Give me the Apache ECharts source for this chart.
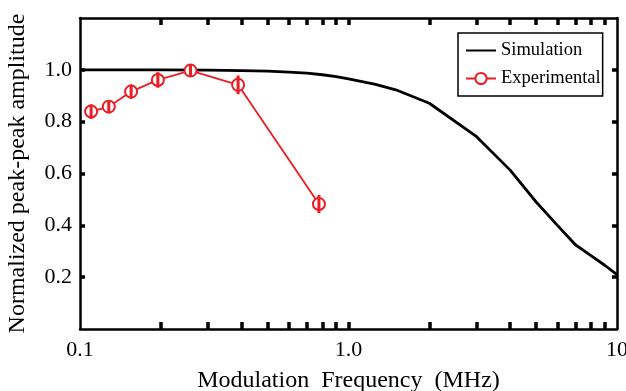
<!DOCTYPE html>
<html>
<head>
<meta charset="utf-8">
<script src="https://cdn.jsdelivr.net/npm/echarts@6/dist/echarts.min.js"></script>
<style>
  html, body { margin: 0; padding: 0; background: #fff; }
  #chart { width: 626px; height: 391px; }
</style>
</head>
<body>
<div id="chart"></div>
<script>
// simulation curve (MHz -> normalized amplitude)
var simFreq = [0.1, 0.2, 0.3, 0.4, 0.5, 0.6, 0.7, 0.8, 0.9, 1.0, 1.25, 1.5, 2, 3, 4, 5, 6, 7, 8, 9, 10];
var simAmp  = [1.0, 1.0, 0.999, 0.997, 0.995, 0.991, 0.987, 0.981, 0.974, 0.965, 0.945, 0.923, 0.871, 0.742, 0.613, 0.49, 0.40, 0.325, 0.283, 0.246, 0.21];

// measured points with error
var expFreq = [0.11, 0.128, 0.155, 0.195, 0.258, 0.388, 0.776];
var expAmp  = [0.839, 0.858, 0.916, 0.961, 0.997, 0.942, 0.482];
var expErr  = [0.028, 0.025, 0.028, 0.03, 0.022, 0.036, 0.035];

var xTickValues = [0.1, 1, 10];
var xTickLabels = ['0.1', '1.0', '10'];
var xMinorTicks = [0.2, 0.3, 0.4, 0.5, 0.6, 0.7, 0.8, 0.9, 1, 2, 3, 4, 5, 6, 7, 8, 9];
var yTickValues = [0.2, 0.4, 0.6, 0.8, 1.0];

var red = '#ec1c24';
var serif = '"Liberation Serif", "DejaVu Serif", serif';

var myChart = echarts.init(document.getElementById('chart'));

var simData = simFreq.map(function (f, i) { return [f, simAmp[i]]; });
var expData = expFreq.map(function (f, i) { return [f, expAmp[i]]; });
var errData = expFreq.map(function (f, i) { return [f, expAmp[i] - expErr[i], expAmp[i] + expErr[i]]; });

function xLabel(v) {
  var best = 0;
  for (var i = 1; i < xTickValues.length; i++) {
    if (Math.abs(Math.log(v / xTickValues[i])) < Math.abs(Math.log(v / xTickValues[best]))) best = i;
  }
  return xTickLabels[best];
}

function xAxisBase() {
  return {
    type: 'log',
    logBase: 10,
    min: 0.1,
    max: 10,
    axisLine: { show: true, onZero: false, lineStyle: { color: '#000', width: 2.5 } },
    axisTick: { show: true, inside: true, length: 7, lineStyle: { color: '#000', width: 3.5 }, customValues: xMinorTicks },
    splitLine: { show: false },
    minorTick: { show: false }
  };
}

function yAxisBase() {
  return {
    type: 'value',
    min: 0,
    max: 1.2,
    axisLine: { show: true, onZero: false, lineStyle: { color: '#000', width: 2.5 } },
    axisTick: { show: true, inside: true, length: 5, lineStyle: { color: '#000', width: 3.5 }, customValues: yTickValues },
    splitLine: { show: false }
  };
}

var option = {
  animation: false,
  backgroundColor: '#fff',
  grid: { left: 80, right: 9, top: 18, bottom: 62, outerBoundsMode: 'none', containLabel: false },
  legend: {
    data: [
      { name: 'Simulation', itemStyle: { opacity: 0 } },
      { name: 'Experimental' }
    ],
    orient: 'vertical',
    left: 458,
    top: 33,
    padding: [8, 2, 8, 7],
    itemGap: 9,
    itemWidth: 30,
    itemHeight: 14,
    backgroundColor: '#fff',
    borderColor: '#000',
    borderWidth: 1.5,
    borderRadius: 0,
    textStyle: { fontFamily: serif, fontSize: 18.5, color: '#000' }
  },
  xAxis: [
    Object.assign(xAxisBase(), {
      position: 'bottom',
      name: 'Modulation  Frequency  (MHz)',
      nameLocation: 'middle',
      nameGap: 40,
      nameTextStyle: { fontFamily: serif, fontSize: 24, color: '#000' },
      axisLabel: {
        customValues: xTickValues,
        formatter: xLabel,
        fontFamily: serif, fontSize: 22, color: '#000', margin: 10
      }
    }),
    Object.assign(xAxisBase(), {
      position: 'top',
      axisLabel: { show: false }
    })
  ],
  yAxis: [
    Object.assign(yAxisBase(), {
      position: 'left',
      name: 'Normalized peak-peak amplitude',
      nameLocation: 'middle',
      nameGap: 50,
      nameTextStyle: { fontFamily: serif, fontSize: 24, color: '#000' },
      axisLabel: {
        customValues: yTickValues,
        formatter: function (v) { return v.toFixed(1); },
        fontFamily: serif, fontSize: 22, color: '#000', margin: 8
      }
    }),
    Object.assign(yAxisBase(), {
      position: 'right',
      axisLabel: { show: false }
    })
  ],
  series: [
    {
      name: 'Simulation',
      type: 'line',
      data: simData,
      symbol: 'none',
      lineStyle: { color: '#000', width: 2.8 },
      itemStyle: { color: '#000' },
      z: 2
    },
    {
      name: 'Experimental',
      type: 'line',
      data: expData,
      symbol: 'emptyCircle',
      symbolSize: 12,
      lineStyle: { color: red, width: 1.8 },
      itemStyle: { color: red, borderColor: red, borderWidth: 2 },
      z: 4
    },
    {
      name: 'err',
      type: 'custom',
      data: errData,
      encode: { x: 0, y: [1, 2] },
      z: 5,
      renderItem: function (params, api) {
        var lo = api.coord([api.value(0), api.value(1)]);
        var hi = api.coord([api.value(0), api.value(2)]);
        return {
          type: 'line',
          shape: { x1: lo[0], y1: lo[1], x2: hi[0], y2: hi[1] },
          style: { stroke: red, lineWidth: 3 }
        };
      }
    }
  ]
};

myChart.setOption(option);
</script>
</body>
</html>
